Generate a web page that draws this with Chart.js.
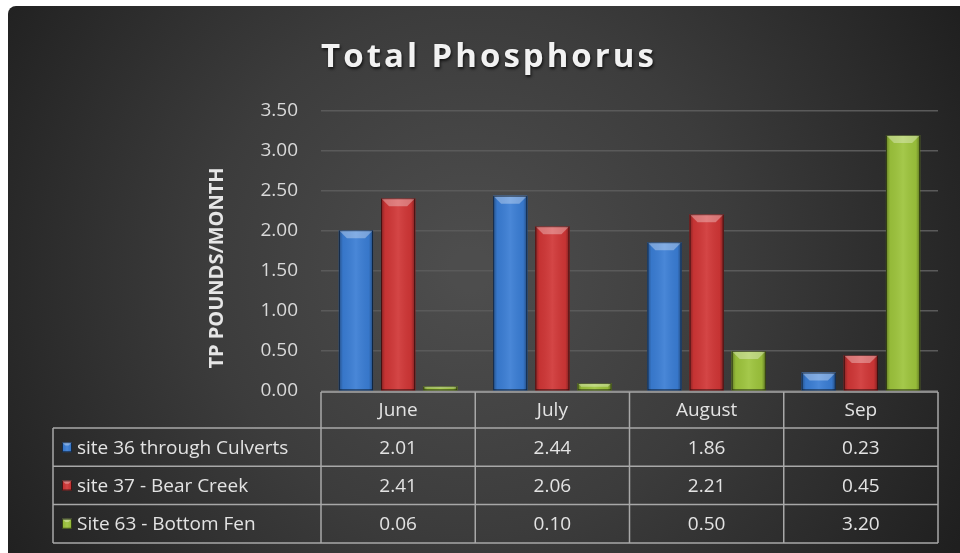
<!DOCTYPE html>
<html>
<head>
<meta charset="utf-8">
<script src="https://cdn.jsdelivr.net/npm/chart.js@4.4.1/dist/chart.umd.min.js"></script>
<style>
  html, body { margin: 0; padding: 0; background: #ffffff; }
  #wrap { width: 960px; height: 553px; }
</style>
</head>
<body>
<div id="wrap"><canvas id="tpChart" width="960" height="553"></canvas></div>
<script>
/*  Total Phosphorus - monthly loads per site, with data table underneath */

var months = ['June', 'July', 'August', 'Sep'];
var seriesNames = ['site 36 through Culverts', 'site 37 - Bear Creek', 'Site 63 - Bottom Fen'];
var site36 = [2.01, 2.44, 1.86, 0.23];
var site37 = [2.41, 2.06, 2.21, 0.45];
var site63 = [0.06, 0.10, 0.50, 3.20];
var yTicks = [0, 0.5, 1, 1.5, 2, 2.5, 3, 3.5];

var chartTitle = 'Total Phosphorus';
var yTitle = 'TP POUNDS/MONTH';

var colors = ['#3a7dd4', '#d03636', '#9dc43c'];
var FONT = "'Open Sans', sans-serif";


// background panel with radial shading
var bgPlugin = {
    id: 'bgPanel',
    beforeDraw: function(chart) {
        var c = chart.ctx;
        c.save();
        c.fillStyle = '#ffffff';
        c.fillRect(0, 0, chart.width, chart.height);
        var g = c.createRadialGradient(470, 270, 20, 470, 270, 560);
        g.addColorStop(0, '#4d4d4d');
        g.addColorStop(0.45, '#3c3c3c');
        g.addColorStop(1, '#1f1f1f');
        c.fillStyle = g;
        c.beginPath();
        c.roundRect(8, 6, chart.width - 8, chart.height - 6, [8, 0, 0, 0]);
        c.fill();
        c.restore();
    }
};


function bevelRect(c, left, top, w, h, color) {
    c.save();
    c.fillStyle = color;
    c.fillRect(left, top, w, h);
    var g = c.createLinearGradient(left, 0, left + w, 0);
    g.addColorStop(0, 'rgba(0,0,0,0.35)');
    g.addColorStop(0.12, 'rgba(0,0,0,0.05)');
    g.addColorStop(0.5, 'rgba(255,255,255,0.08)');
    g.addColorStop(0.88, 'rgba(0,0,0,0.05)');
    g.addColorStop(1, 'rgba(0,0,0,0.4)');
    c.fillStyle = g;
    c.fillRect(left, top, w, h);
    var b = Math.min(8, h / 2, w / 3);
    c.fillStyle = 'rgba(255,255,255,0.32)';
    c.beginPath();
    c.moveTo(left, top);
    c.lineTo(left + w, top);
    c.lineTo(left + w - b, top + b);
    c.lineTo(left + b, top + b);
    c.closePath();
    c.fill();
    c.strokeStyle = 'rgba(0,0,0,0.55)';
    c.lineWidth = 1;
    c.strokeRect(left + 0.5, top + 0.5, w - 1, h - 1);
    c.restore();
}


// gives the bars their bevelled look
var bevelPlugin = {
    id: 'bevel',
    afterDatasetsDraw: function(chart) {
        var c = chart.ctx;
        chart.data.datasets.forEach(function(ds, di) {
            var meta = chart.getDatasetMeta(di);
            meta.data.forEach(function(bar) {
                var left = bar.x - bar.width / 2;
                var top = Math.min(bar.y, bar.base);
                var h = Math.abs(bar.base - bar.y);
                bevelRect(c, left, top, bar.width, h, ds.backgroundColor);
            });
        });
    }
};


// chart title, axis title and the data table
var tablePlugin = {
    id: 'dataTable',
    afterDraw: function(chart) {
        var c = chart.ctx;
        var area = chart.chartArea;
        var xs = chart.scales.x;
        var colW = (area.right - area.left) / months.length;
        var top = area.bottom + 1;
        var headH = 36;
        var rowH = 38.3;
        var tableLeft = 53;
        var bottom = top + headH + rowH * seriesNames.length;
        var sets = [site36, site37, site63];

        c.save();

        // title
        c.font = 'bold 33px ' + FONT;
        c.letterSpacing = '3px';
        c.textAlign = 'center';
        c.textBaseline = 'alphabetic';
        c.fillStyle = '#f2f2f2';
        c.shadowColor = 'rgba(0,0,0,0.7)';
        c.shadowOffsetX = 1;
        c.shadowOffsetY = 2;
        c.shadowBlur = 3;
        c.fillText(chartTitle, 489, 67);
        c.shadowColor = 'transparent';
        c.letterSpacing = '0px';

        // y axis title
        c.save();
        c.translate(223, 268);
        c.rotate(-Math.PI / 2);
        c.font = 'bold 20px ' + FONT;
        c.fillStyle = '#e6e6e6';
        c.textAlign = 'center';
        c.textBaseline = 'alphabetic';
        c.fillText(yTitle, 0, 0);
        c.restore();

        // grid of the table
        c.strokeStyle = '#a8a8a8';
        c.lineWidth = 1.5;
        c.beginPath();
        c.moveTo(area.left, top);
        c.lineTo(area.right, top);
        for (var r = 0; r <= seriesNames.length; r++) {
            var yy = top + headH + r * rowH;
            c.moveTo(tableLeft, yy);
            c.lineTo(area.right, yy);
        }
        for (var k = 0; k <= months.length; k++) {
            var xx = area.left + k * colW;
            c.moveTo(xx, top);
            c.lineTo(xx, bottom);
        }
        c.moveTo(tableLeft, top + headH);
        c.lineTo(tableLeft, bottom);
        c.stroke();

        // text
        c.font = '19px ' + FONT;
        c.fillStyle = '#e3e3e3';
        c.textBaseline = 'middle';
        c.textAlign = 'center';
        months.forEach(function(m, i) {
            var cx = xs.getPixelForValue(i);
            c.fillText(m, cx, top + headH / 2 + 1);
            sets.forEach(function(vals, s) {
                c.fillText(vals[i].toFixed(2), cx, top + headH + s * rowH + rowH / 2 + 1);
            });
        });
        c.textAlign = 'left';
        seriesNames.forEach(function(name, s) {
            var cy = top + headH + s * rowH + rowH / 2;
            bevelRect(c, 62, cy - 5, 10, 10, colors[s]);
            c.fillStyle = '#e3e3e3';
            c.fillText(name, 77, cy + 1);
        });

        c.restore();
    }
};


var ctx = document.getElementById('tpChart').getContext('2d');

var tp_chart = new Chart(ctx, {
    type: 'bar',
    data: {
        labels: months,
        datasets: [
            {label: seriesNames[0], data: site36, backgroundColor: colors[0]},
            {label: seriesNames[1], data: site37, backgroundColor: colors[1]},
            {label: seriesNames[2], data: site63, backgroundColor: colors[2]},
        ],
    },
    options: {
        responsive: false,
        animation: false,
        devicePixelRatio: 1,
        categoryPercentage: 0.82,
        barPercentage: 0.81,
        layout: {
            padding: {top: 111, bottom: 162, left: 0, right: 22},
        },
        scales: {
            x: {display: false},
            y: {
                min: 0,
                max: 3.5,
                afterFit: function(scale) { scale.width = 321; },
                afterBuildTicks: function(scale) {
                    scale.ticks = yTicks.map(function(v) { return {value: v}; });
                },
                border: {display: false},
                grid: {color: '#5a5a5a', lineWidth: 1.5, drawTicks: false},
                ticks: {
                    color: '#d9d9d9',
                    padding: 23,
                    font: {family: FONT, size: 19},
                    callback: function(v) { return Number(v).toFixed(2); },
                },
            },
        },
        plugins: {
            legend: {display: false},
            tooltip: {enabled: false},
            title: {display: false},
        },
    },
    plugins: [bgPlugin, bevelPlugin, tablePlugin],
});
</script>
</body>
</html>
